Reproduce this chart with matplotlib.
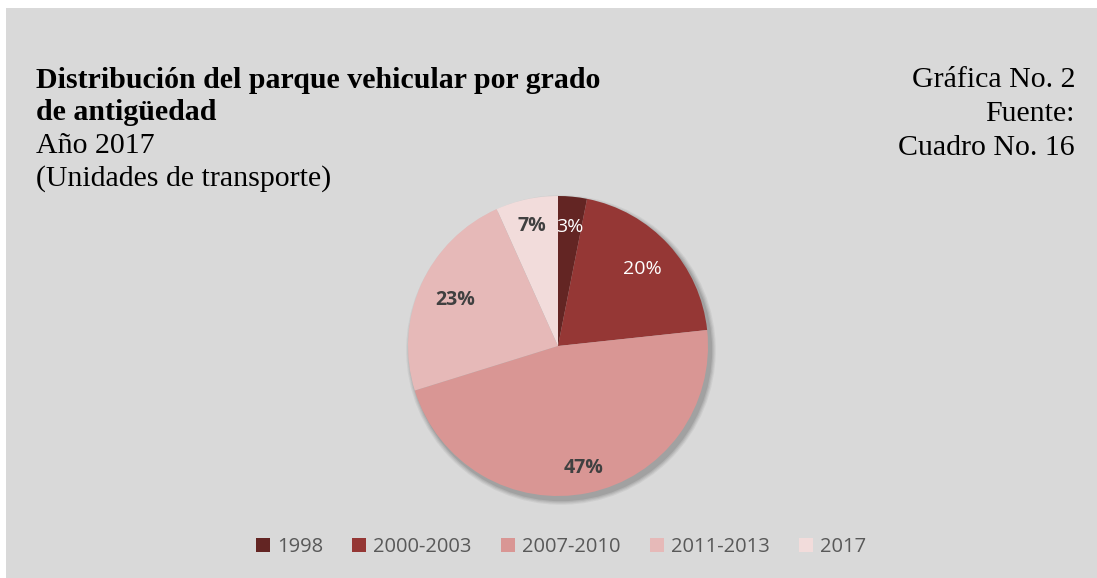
import numpy as np
import matplotlib.pyplot as plt
from matplotlib.patches import Rectangle, Circle

# data
categories = ['1998', '2000-2003', '2007-2010', '2011-2013', '2017']
shares = [3.1, 20.2, 46.9, 23.1, 6.7]
colors = ['#632523', '#953735', '#d99694', '#e6b9b8', '#f2dcdb']
label_colors = ['white', 'white', '#404040', '#404040', '#404040']
label_weights = ['normal', 'normal', 'bold', 'bold', 'bold']
label_dist = [0.80, 0.76, 0.83, 0.75, 0.82]   # excel "best fit" placement

W, H = 1097, 578
fig = plt.figure(figsize=(W / 100, H / 100), dpi=100, facecolor='white')
fig.patches.append(Rectangle((6 / W, 0), 1, 1 - 8 / H, transform=fig.transFigure,
                             facecolor='#d9d9d9', edgecolor='none', zorder=-5))

serif = 'Liberation Serif'
sans = 'Open Sans'
fs = 21.5

# title block
fig.text(36 / W, 1 - 80 / H, 'Distribución del parque vehicular por grado',
         fontsize=fs, fontweight='bold', family=serif, va='center')
fig.text(36 / W, 1 - 113 / H, 'de antigüedad',
         fontsize=fs, fontweight='bold', family=serif, va='center')
fig.text(36 / W, 1 - 146 / H, 'Año 2017', fontsize=fs, family=serif, va='center')
fig.text(36 / W, 1 - 179 / H, '(Unidades de transporte)', fontsize=fs, family=serif, va='center')

fig.text(1075 / W, 1 - 80 / H, 'Gráfica No. 2', fontsize=fs, family=serif, va='center', ha='right')
fig.text(1075 / W, 1 - 114 / H, 'Fuente:', fontsize=fs, family=serif, va='center', ha='right')
fig.text(1075 / W, 1 - 148 / H, 'Cuadro No. 16', fontsize=fs, family=serif, va='center', ha='right')

# pie
cx, cy, R = 558, 346, 150
pad = 10
ax = fig.add_axes([(cx - R - pad) / W, 1 - (cy + R + pad) / H, (2 * R + 2 * pad) / W, (2 * R + 2 * pad) / H])
ax.set_zorder(1)

wedges, texts, autotexts = ax.pie(shares, colors=colors, startangle=90, counterclock=False,
                                  autopct='%.0f%%', pctdistance=0.79, radius=1,
                                  wedgeprops=dict(linewidth=0), textprops=dict(fontsize=14, family=sans))
for w in wedges:
    w.set_zorder(2)
for w, t, c, fw, d in zip(wedges, autotexts, label_colors, label_weights, label_dist):
    t.set_color(c)
    t.set_fontweight(fw)
    t.set_zorder(3)
    mid = np.deg2rad((w.theta1 + w.theta2) / 2)
    t.set_position((d * np.cos(mid), d * np.sin(mid)))

# soft shadow
for i, a in enumerate([0.05, 0.06, 0.07, 0.09]):
    ax.add_patch(Circle((3 / R, -4 / R), 1 + (4 - i) * 1.2 / R, facecolor='black',
                        alpha=a, edgecolor='none', zorder=0))

ax.set_xlim(-1 - pad / R, 1 + pad / R)
ax.set_ylim(-1 - pad / R, 1 + pad / R)
ax.set_aspect('equal')
ax.axis('off')

leg = fig.legend(wedges, categories, loc='center', bbox_to_anchor=(561 / W, 1 - 547 / H), ncol=5,
                 frameon=False, handlelength=0.7, handleheight=0.7, handletextpad=0.35,
                 columnspacing=1.45, prop=dict(family=sans, size=14.5))
for t in leg.get_texts():
    t.set_color('#595959')

fig.savefig('out.png', dpi=100, facecolor=fig.get_facecolor())
